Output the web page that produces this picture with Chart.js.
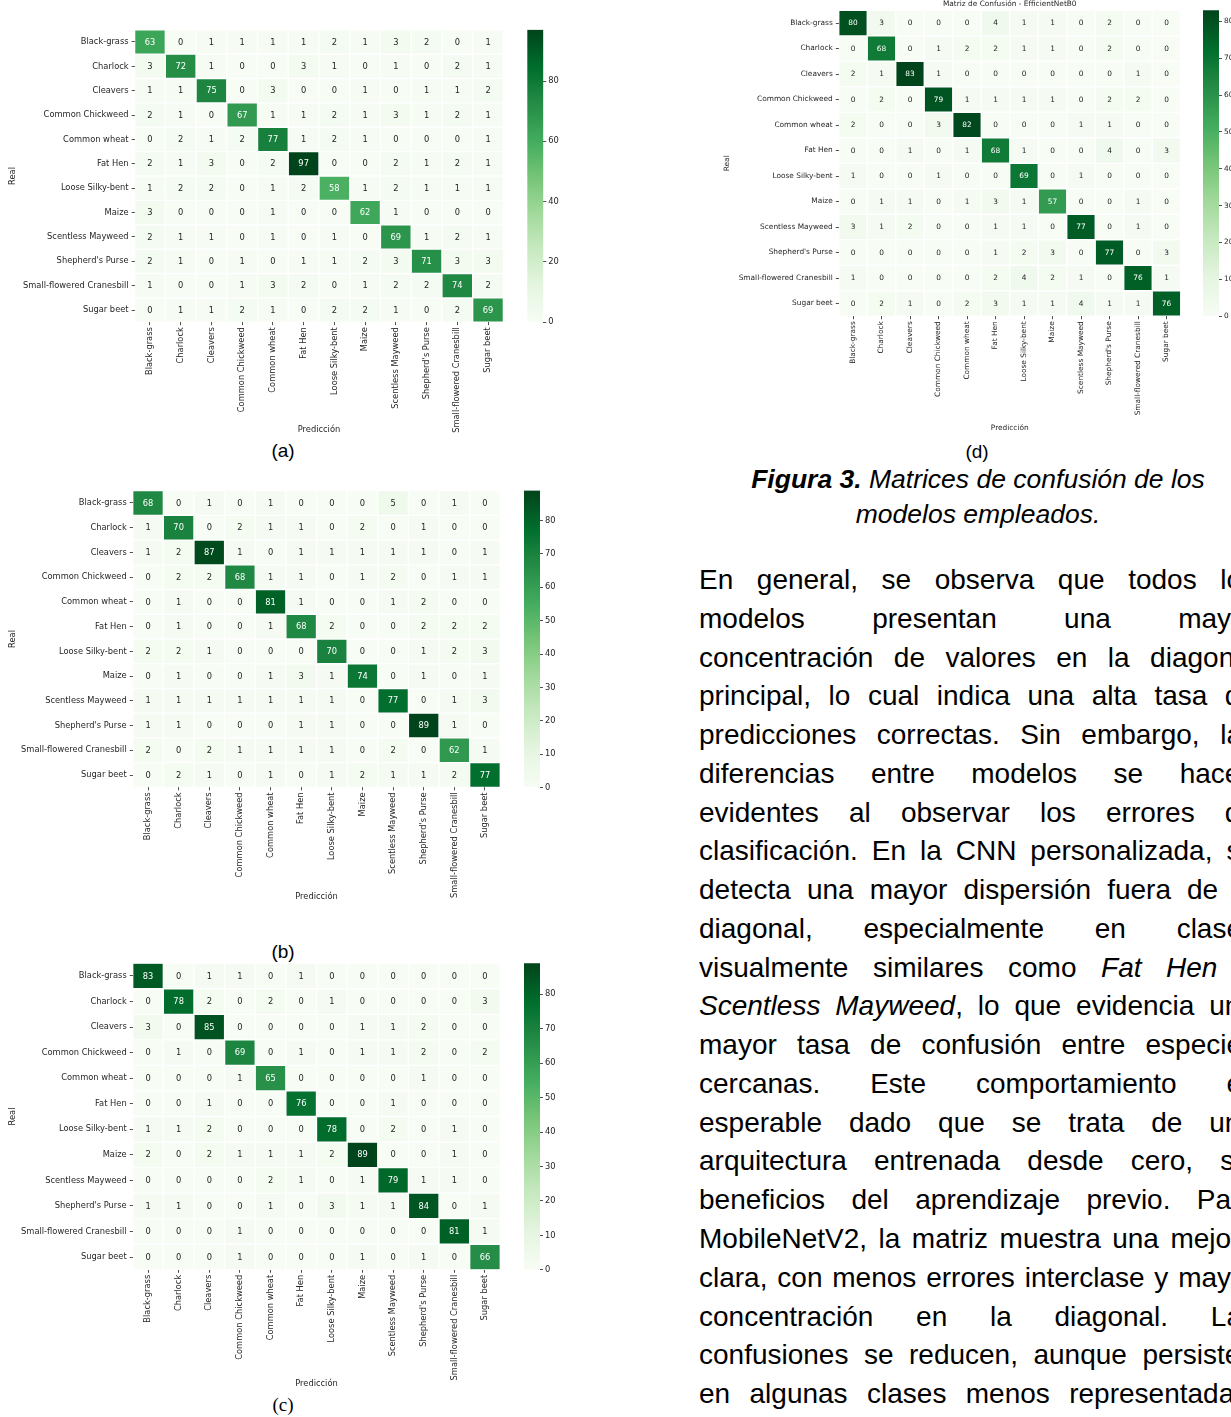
<!DOCTYPE html>
<html>
<head>
<meta charset="utf-8">
<script src="https://cdn.jsdelivr.net/npm/chart.js@4.4.0/dist/chart.umd.min.js"></script>
<style>
body { margin: 0; width: 1231px; height: 1417px; overflow: hidden; background: #fff; position: relative; font-family: "Liberation Sans", Arial, sans-serif; color: #000; }
.sub { position: absolute; font-size: 19px; transform: translate(-50%, -50%); white-space: nowrap; }
.cap { position: absolute; left: 700px; width: 556px; text-align: center; font-size: 26.5px; line-height: 35px; }
.para { position: absolute; left: 699px; width: 557px; font-size: 28px; line-height: 38.76px; }
.para div { text-align: justify; text-align-last: justify; }
</style>
</head>
<body>

<div class="sub" style="left:283px;top:451px">(a)</div>
<div class="sub" style="left:283px;top:952px">(b)</div>
<div class="sub" style="left:283px;top:1405px;font-family:'Liberation Serif',serif">(c)</div>
<div class="sub" style="left:977px;top:452px">(d)</div>

<div class="cap" style="top:462px">
  <b><i>Figura 3.</i></b><i> Matrices de confusión de los</i><br><i>modelos empleados.</i>
</div>

<div class="para" style="top:561px">
  <div>En general, se observa que todos los</div>
  <div>modelos presentan una mayor</div>
  <div>concentración de valores en la diagonal</div>
  <div>principal, lo cual indica una alta tasa de</div>
  <div>predicciones correctas. Sin embargo, las</div>
  <div>diferencias entre modelos se hacen</div>
  <div>evidentes al observar los errores de</div>
  <div>clasificación. En la CNN personalizada, se</div>
  <div>detecta una mayor dispersión fuera de la</div>
  <div>diagonal, especialmente en clases</div>
  <div>visualmente similares como <i>Fat Hen</i> y</div>
  <div><i>Scentless Mayweed</i>, lo que evidencia una</div>
  <div>mayor tasa de confusión entre especies</div>
  <div>cercanas. Este comportamiento es</div>
  <div>esperable dado que se trata de una</div>
  <div>arquitectura entrenada desde cero, sin</div>
  <div>beneficios del aprendizaje previo. Para</div>
  <div>MobileNetV2, la matriz muestra una mejora</div>
  <div>clara, con menos errores interclase y mayor</div>
  <div>concentración en la diagonal. Las</div>
  <div>confusiones se reducen, aunque persisten</div>
  <div>en algunas clases menos representadas.</div>
</div>

<script>
// classes (rows = real, columns = prediccion)
var classes = ["Black-grass", "Charlock", "Cleavers", "Common Chickweed", "Common wheat", "Fat Hen",
  "Loose Silky-bent", "Maize", "Scentless Mayweed", "Shepherd's Purse", "Small-flowered Cranesbill", "Sugar beet"];

// (a)
var cmA = [
  [63, 0, 1, 1, 1, 1, 2, 1, 3, 2, 0, 1],
  [3, 72, 1, 0, 0, 3, 1, 0, 1, 0, 2, 1],
  [1, 1, 75, 0, 3, 0, 0, 1, 0, 1, 1, 2],
  [2, 1, 0, 67, 1, 1, 2, 1, 3, 1, 2, 1],
  [0, 2, 1, 2, 77, 1, 2, 1, 0, 0, 0, 1],
  [2, 1, 3, 0, 2, 97, 0, 0, 2, 1, 2, 1],
  [1, 2, 2, 0, 1, 2, 58, 1, 2, 1, 1, 1],
  [3, 0, 0, 0, 1, 0, 0, 62, 1, 0, 0, 0],
  [2, 1, 1, 0, 1, 0, 1, 0, 69, 1, 2, 1],
  [2, 1, 0, 1, 0, 1, 1, 2, 3, 71, 3, 3],
  [1, 0, 0, 1, 3, 2, 0, 1, 2, 2, 74, 2],
  [0, 1, 1, 2, 1, 0, 2, 2, 1, 0, 2, 69]
];

// (b)
var cmB = [
  [68, 0, 1, 0, 1, 0, 0, 0, 5, 0, 1, 0],
  [1, 70, 0, 2, 1, 1, 0, 2, 0, 1, 0, 0],
  [1, 2, 87, 1, 0, 1, 1, 1, 1, 1, 0, 1],
  [0, 2, 2, 68, 1, 1, 0, 1, 2, 0, 1, 1],
  [0, 1, 0, 0, 81, 1, 0, 0, 1, 2, 0, 0],
  [0, 1, 0, 0, 1, 68, 2, 0, 0, 2, 2, 2],
  [2, 2, 1, 0, 0, 0, 70, 0, 0, 1, 2, 3],
  [0, 1, 0, 0, 1, 3, 1, 74, 0, 1, 0, 1],
  [1, 1, 1, 1, 1, 1, 1, 0, 77, 0, 1, 3],
  [1, 1, 0, 0, 0, 1, 1, 0, 0, 89, 1, 0],
  [2, 0, 2, 1, 1, 1, 1, 0, 2, 0, 62, 1],
  [0, 2, 1, 0, 1, 0, 1, 2, 1, 1, 2, 77]
];

// (c)
var cmC = [
  [83, 0, 1, 1, 0, 1, 0, 0, 0, 0, 0, 0],
  [0, 78, 2, 0, 2, 0, 1, 0, 0, 0, 0, 3],
  [3, 0, 85, 0, 0, 0, 0, 1, 1, 2, 0, 0],
  [0, 1, 0, 69, 0, 1, 0, 1, 1, 2, 0, 2],
  [0, 0, 0, 1, 65, 0, 0, 0, 0, 1, 0, 0],
  [0, 0, 1, 0, 0, 76, 0, 0, 1, 0, 0, 0],
  [1, 1, 2, 0, 0, 0, 78, 0, 2, 0, 1, 0],
  [2, 0, 2, 1, 1, 1, 2, 89, 0, 0, 1, 0],
  [0, 0, 0, 0, 2, 1, 0, 1, 79, 1, 1, 0],
  [1, 1, 0, 0, 1, 0, 3, 1, 1, 84, 0, 1],
  [0, 0, 0, 1, 0, 0, 0, 0, 0, 0, 81, 1],
  [0, 0, 0, 1, 0, 0, 0, 1, 0, 1, 0, 66]
];

// (d) EfficientNetB0
var cmD = [
  [80, 3, 0, 0, 0, 4, 1, 1, 0, 2, 0, 0],
  [0, 68, 0, 1, 2, 2, 1, 1, 0, 2, 0, 0],
  [2, 1, 83, 1, 0, 0, 0, 0, 0, 0, 1, 0],
  [0, 2, 0, 79, 1, 1, 1, 1, 0, 2, 2, 0],
  [2, 0, 0, 3, 82, 0, 0, 0, 1, 1, 0, 0],
  [0, 0, 1, 0, 1, 68, 1, 0, 0, 4, 0, 3],
  [1, 0, 0, 1, 0, 0, 69, 0, 1, 0, 0, 0],
  [0, 1, 1, 0, 1, 3, 1, 57, 0, 0, 1, 0],
  [3, 1, 2, 0, 0, 1, 1, 0, 77, 0, 1, 0],
  [0, 0, 0, 0, 0, 1, 2, 3, 0, 77, 0, 3],
  [1, 0, 0, 0, 0, 2, 4, 2, 1, 0, 76, 1],
  [0, 2, 1, 0, 2, 3, 1, 1, 4, 1, 1, 76]
];

// matplotlib "Greens"
var greensStops = ["#f7fcf5", "#e5f5e0", "#c7e9c0", "#a1d99b", "#74c476", "#41ab5d", "#238b45", "#006d2c", "#00441b"];
var ink = "#262626";
var tickFont = "'DejaVu Sans', sans-serif";

function hexRgb(h) {
  return [parseInt(h.substr(1, 2), 16), parseInt(h.substr(3, 2), 16), parseInt(h.substr(5, 2), 16)];
}
function greens(t) {
  t = Math.max(0, Math.min(1, t));
  var p = t * 8, i = Math.min(7, Math.floor(p)), f = p - i;
  var a = hexRgb(greensStops[i]), b = hexRgb(greensStops[i + 1]);
  return [0, 1, 2].map(function (k) { return Math.round(a[k] + (b[k] - a[k]) * f); });
}
function luminance(c) {
  var l = c.map(function (v) { v /= 255; return v <= 0.03928 ? v / 12.92 : Math.pow((v + 0.055) / 1.055, 2.4); });
  return 0.2126 * l[0] + 0.7152 * l[1] + 0.0722 * l[2];
}
function rgb(c) { return "rgb(" + c.join(",") + ")"; }

function makeCanvas(x0, y0, x1, y1) {
  var c = document.createElement("canvas");
  c.width = x1 - x0;
  c.height = y1 - y0;
  c.style.cssText = "position:absolute;left:" + x0 + "px;top:" + y0 + "px";
  document.body.appendChild(c);
  return c;
}

var cellText = {
  id: "cellText",
  afterDatasetsDraw: function (chart, args, opts) {
    var ctx = chart.ctx;
    ctx.save();
    ctx.font = opts.size + "px " + tickFont;
    ctx.textAlign = "center";
    ctx.textBaseline = "middle";
    chart.data.datasets.forEach(function (ds, r) {
      chart.getDatasetMeta(r).data.forEach(function (bar, c) {
        var v = ds.values[c];
        ctx.fillStyle = luminance(greens(v / ds.vmax)) > 0.408 ? ink : "#ffffff";
        ctx.fillText(String(v), bar.x, (bar.y + bar.base) / 2 + 0.5);
      });
    });
    ctx.restore();
  }
};

// frame = canvas box, area = where the cells must land
function heatmap(cm, frame, area, fs, realPad, title) {
  var vmax = Math.max.apply(null, cm.map(function (r) { return Math.max.apply(null, r); }));
  var titleH = title ? fs * 1.2 + 2 : 0;
  var canvas = makeCanvas(frame[0], frame[1], frame[2], frame[3]);
  new Chart(canvas, {
    type: "bar",
    data: {
      labels: classes,
      datasets: cm.map(function (row, r) {
        return {
          label: classes[r],
          data: row.map(function () { return [r, r + 1]; }),
          values: row,
          vmax: vmax,
          backgroundColor: row.map(function (v) { return rgb(greens(v / vmax)); }),
          borderColor: "rgba(255,255,255,0.35)",
          borderWidth: 1,
          borderSkipped: false,
          grouped: false,
          barPercentage: 1,
          categoryPercentage: 1
        };
      })
    },
    options: {
      responsive: false,
      animation: false,
      events: [],
      layout: { padding: { top: area[1] - frame[1] - titleH, right: frame[2] - area[2], left: 0, bottom: 0 } },
      plugins: {
        legend: { display: false },
        tooltip: { enabled: false },
        title: {
          display: !!title,
          text: title || "",
          fullSize: false,
          color: ink,
          font: { family: tickFont, size: fs, weight: "normal" },
          padding: { top: 0, bottom: 2 }
        },
        cellText: { size: fs }
      },
      scales: {
        x: {
          grid: { drawOnChartArea: false, offset: false, tickLength: 3, color: ink, lineWidth: 0.8 },
          border: { display: false },
          ticks: { color: ink, font: { family: tickFont, size: fs }, minRotation: 90, maxRotation: 90, autoSkip: false, padding: 2 },
          title: { display: true, text: "Predicción", color: ink, font: { family: tickFont, size: fs }, padding: { top: 0, bottom: 4 } },
          afterFit: function (s) { s.height = frame[3] - area[3]; }
        },
        y: {
          min: 0,
          max: classes.length,
          reverse: true,
          afterBuildTicks: function (s) { s.ticks = classes.map(function (c, i) { return { value: i + 0.5 }; }); },
          grid: { drawOnChartArea: false, tickLength: 3, color: ink, lineWidth: 0.8 },
          border: { display: false },
          ticks: { color: ink, font: { family: tickFont, size: fs }, autoSkip: false, padding: 3,
            callback: function (v, i) { return classes[i]; } },
          title: { display: true, text: "Real", color: ink, font: { family: tickFont, size: fs }, padding: { top: realPad, bottom: 0 } },
          afterFit: function (s) { s.width = area[0] - frame[0]; }
        }
      }
    },
    plugins: [cellText]
  });
  return vmax;
}

function colorbar(vmax, step, frame, area, fs) {
  var canvas = makeCanvas(frame[0], frame[1], frame[2], frame[3]);
  new Chart(canvas, {
    type: "bar",
    data: {
      labels: [""],
      datasets: [{
        data: [[0, vmax]],
        backgroundColor: function (c) {
          var ca = c.chart.chartArea;
          if (!ca) return null;
          var g = c.chart.ctx.createLinearGradient(0, ca.bottom, 0, ca.top);
          greensStops.forEach(function (s, i) { g.addColorStop(i / 8, s); });
          return g;
        },
        borderWidth: 0,
        barPercentage: 1,
        categoryPercentage: 1
      }]
    },
    options: {
      responsive: false,
      animation: false,
      events: [],
      layout: { padding: { left: area[0] - frame[0], top: area[1] - frame[1], bottom: frame[3] - area[3], right: 0 } },
      plugins: { legend: { display: false }, tooltip: { enabled: false } },
      scales: {
        x: { display: false },
        y: {
          position: "right",
          min: 0,
          max: vmax,
          afterBuildTicks: function (s) {
            s.ticks = s.ticks.filter(function (t) { return t.value % step === 0; });
          },
          grid: { drawOnChartArea: false, tickLength: 3, color: ink, lineWidth: 0.8 },
          border: { display: false },
          ticks: { stepSize: step, color: ink, font: { family: tickFont, size: fs }, padding: 2 },
          afterFit: function (s) { s.width = frame[2] - area[2]; }
        }
      }
    }
  });
}

var vA = heatmap(cmA, [0, 20, 515, 439], [134.6, 29.8, 503.4, 322.2], 8.3, 8);
colorbar(vA, 20, [520, 20, 580, 440], [527.3, 29.8, 543.3, 322.2], 8.3);

var vB = heatmap(cmB, [0, 480, 512, 906], [132.7, 490.6, 500.3, 787.4], 8.3, 8);
colorbar(vB, 10, [518, 480, 578, 800], [524, 490.6, 540, 787.4], 8.3);

var vC = heatmap(cmC, [0, 953, 512, 1393], [132.7, 963.2, 500.3, 1269.8], 8.3, 8);
colorbar(vC, 10, [518, 953, 578, 1280], [524, 963.2, 540, 1269.8], 8.3);

var vD = heatmap(cmD, [720, -2, 1192, 437], [838.75, 10.3, 1180.75, 316.25], 7.4, 2.5, "Matriz de Confusión - EfficientNetB0");
colorbar(vD, 10, [1198, 0, 1231, 330], [1203, 10.3, 1219, 316.25], 7.4);
</script>
</body>
</html>
